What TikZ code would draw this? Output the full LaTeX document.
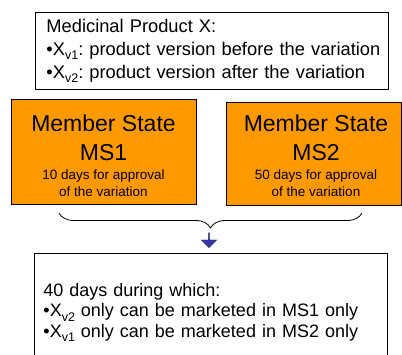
\documentclass[tikz,border=0pt]{standalone}
\usepackage{fontspec}
\setmainfont{Liberation Sans}
\usetikzlibrary{positioning,decorations.pathreplacing,shapes.arrows}
\definecolor{msorange}{HTML}{FF9900}
\definecolor{dnblue}{HTML}{3636A6}
\definecolor{dnedge}{HTML}{1C1C5E}
\newcommand{\vsub}[1]{\raisebox{-0.25em}{\fontsize{12.5}{12.5}\selectfont #1}}
\frenchspacing

\begin{document}
\begin{tikzpicture}[x=1pt,y=-1pt]
  \tikzstyle{txtbox}=[draw,line width=0.9pt,fill=white,align=left,anchor=north west,inner ysep=0pt,font=\fontsize{18}{23}\selectfont]
  \tikzstyle{msbox}=[draw,line width=0.8pt,fill=msorange,inner sep=0pt]
  \tikzstyle{mstitle}=[align=center,inner sep=0pt,font=\fontsize{23}{29}\selectfont]
  \tikzstyle{msnote}=[align=center,inner sep=0pt,font=\fontsize{13.5}{17}\selectfont]

  \path[use as bounding box,clip] (0,0) rectangle (402,354);

  \node[txtbox,text width=331pt,inner xsep=11pt,minimum height=77pt,font=\fontsize{18.3}{23}\selectfont] (prod) at (35,12)
    {\mbox{Medicinal Product X:}\\\mbox{•X\vsub{v1}: product version before the variation}\\\mbox{•X\vsub{v2}: product version after the variation}};

  \node[msbox,minimum width=185pt,minimum height=105pt] (ms1) at (103.5,151.5) {};
  \node[mstitle] (ms1 title) at (103.5,137.5) {Member State\\MS1};
  \node[msnote] (ms1 note) at (103.5,183) {10 days for approval\\of the variation};

  \node[msbox,minimum width=175pt,minimum height=103pt] (ms2) at (313.5,153.5) {};
  \node[mstitle] (ms2 title) at (316,137.5) {Member State\\MS2};
  \node[msnote] (ms2 note) at (316,183.5) {50 days for approval\\of the variation};

  % brace joining the two member states
  \coordinate (brace left) at (59,213);
  \coordinate (brace right) at (362,213);
  \draw[line width=0.8pt,decorate,decoration={brace,mirror,amplitude=15pt}] (brace left) -- (brace right);

  \node[single arrow,draw=dnedge,fill=dnblue,shape border rotate=270,minimum width=15.5pt,minimum height=15pt,single arrow head extend=3.5pt,inner sep=0pt] (down) at (209,240) {};

  \node[txtbox,text width=335pt,inner xsep=9pt,minimum height=118pt,font=\fontsize{18}{20.5}\selectfont] (result) at (34,253)
    {\mbox{40 days during which:}\\\mbox{•X\vsub{v2} only can be marketed in MS1 only}\\\mbox{•X\vsub{v1} only can be marketed in MS2 only}};
\end{tikzpicture}
\end{document}
